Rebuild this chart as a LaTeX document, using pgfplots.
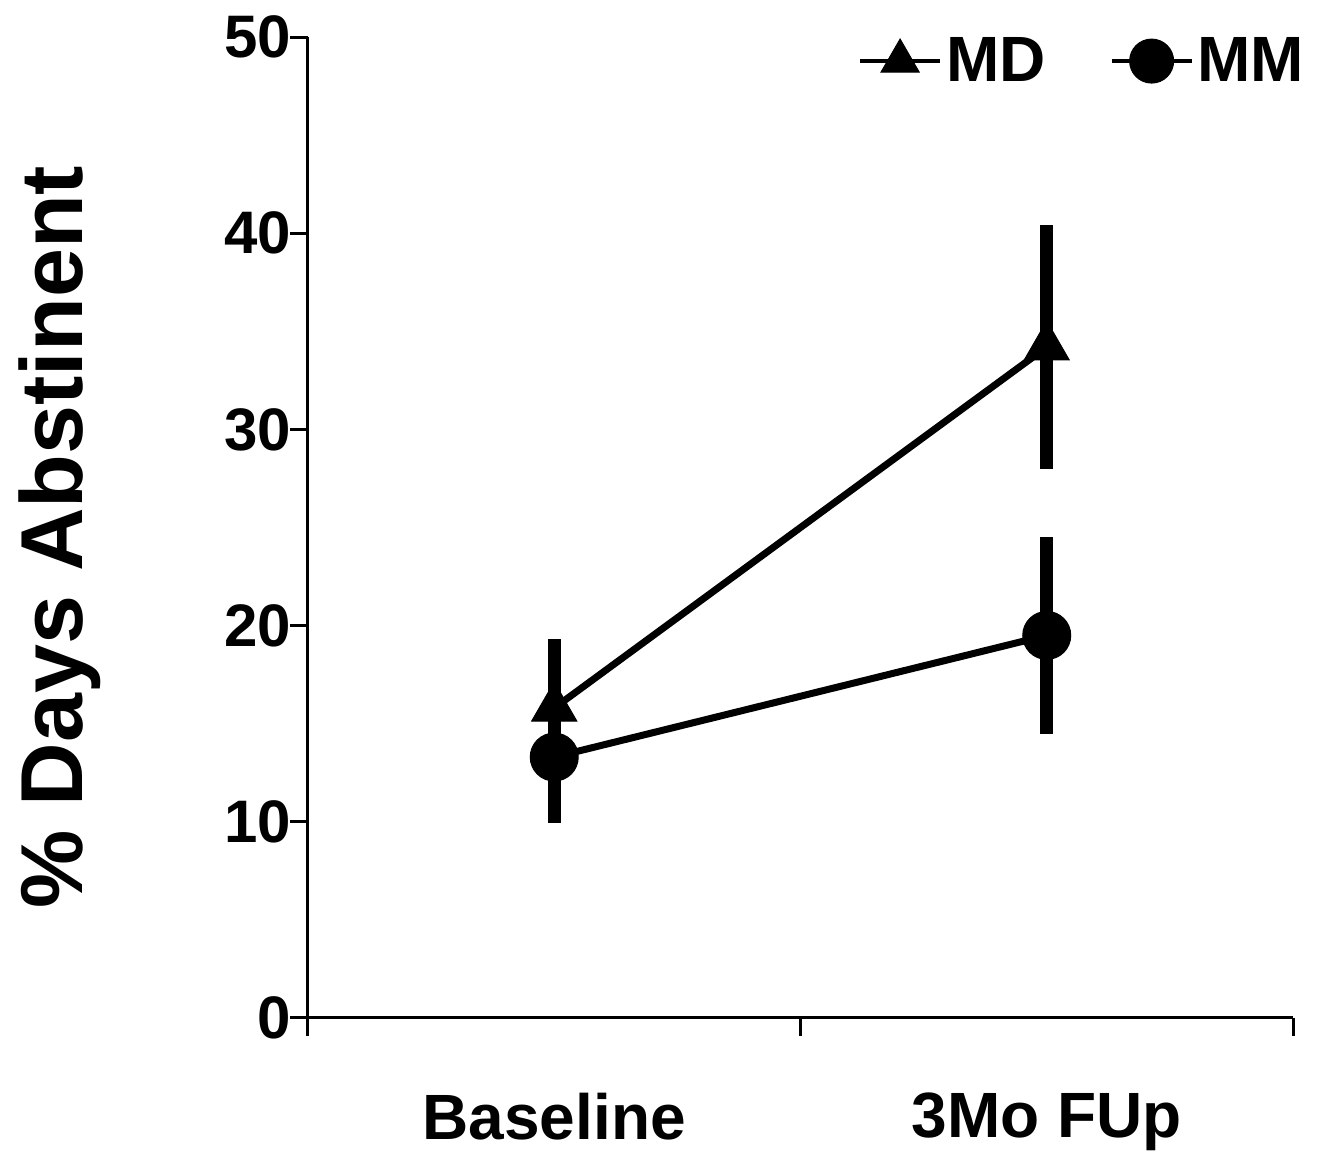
\documentclass[border=0pt]{standalone}
\usepackage{pgfplots}
\pgfplotsset{compat=1.18}
\usepackage{fontspec}
\setmainfont{Liberation Sans}

\begin{document}
\begin{tikzpicture}
\useasboundingbox (-154pt,-69.5pt) rectangle (508pt,509pt);
\begin{axis}[
  scale only axis,
  width=492.5pt, height=490.5pt,
  xmin=0, xmax=2, ymin=0, ymax=50,
  axis lines=left,
  axis line style={-, line width=1.5pt},
  xtick={0,1,2}, xticklabels={},
  extra x ticks={0.5,1.5},
  extra x tick labels={Baseline,3Mo FUp},
  extra x tick style={major tick length=0pt, tick label style={yshift=-34pt, font=\fontsize{32}{36}\selectfont\bfseries}},
  ytick={0,10,...,50},
  tick align=outside,
  major tick length=9pt,
  tick style={line width=1.5pt, black},
  /pgf/number format/assume math mode=true,
  tick label style={font=\fontsize{30}{34}\selectfont\bfseries},
  yticklabel style={xshift=4pt},
  ylabel={\% Days Abstinent},
  ylabel style={font=\fontsize{44}{50}\selectfont\bfseries, at={(axis description cs:-0.252,0.49)}, anchor=center},
  legend style={at={(rel axis cs:1.022,1.008)}, anchor=north east, draw=none, fill=none,
    font=\fontsize{32}{36}\selectfont\bfseries, legend columns=2,
    /tikz/every even column/.append style={column sep=30pt}},
  legend image code/.code={
    \draw[#1, line width=2pt, mark repeat=2, mark phase=2, mark size=11pt] plot coordinates {(0pt,0pt) (20pt,0pt) (40pt,0pt)};},
  clip=false,
]
\addplot[black, line width=3.5pt, mark=triangle*, mark size=13pt,
  mark options={solid, line width=0.5pt},
  error bars/.cd, y dir=both, y explicit, error mark=none,
  error bar style={line width=6.5pt}]
  coordinates {(0.5,15.8) +- (0,3.5) (1.5,34.2) +- (0,6.2)};
\addplot[black, line width=3.5pt, mark=*, mark size=12pt,
  mark options={solid, line width=0.5pt},
  error bars/.cd, y dir=both, y explicit, error mark=none,
  error bar style={line width=6.5pt}]
  coordinates {(0.5,13.3) +- (0,3.35) (1.5,19.5) +- (0,5.0)};
\legend{MD, MM}
\end{axis}
\end{tikzpicture}
\end{document}
